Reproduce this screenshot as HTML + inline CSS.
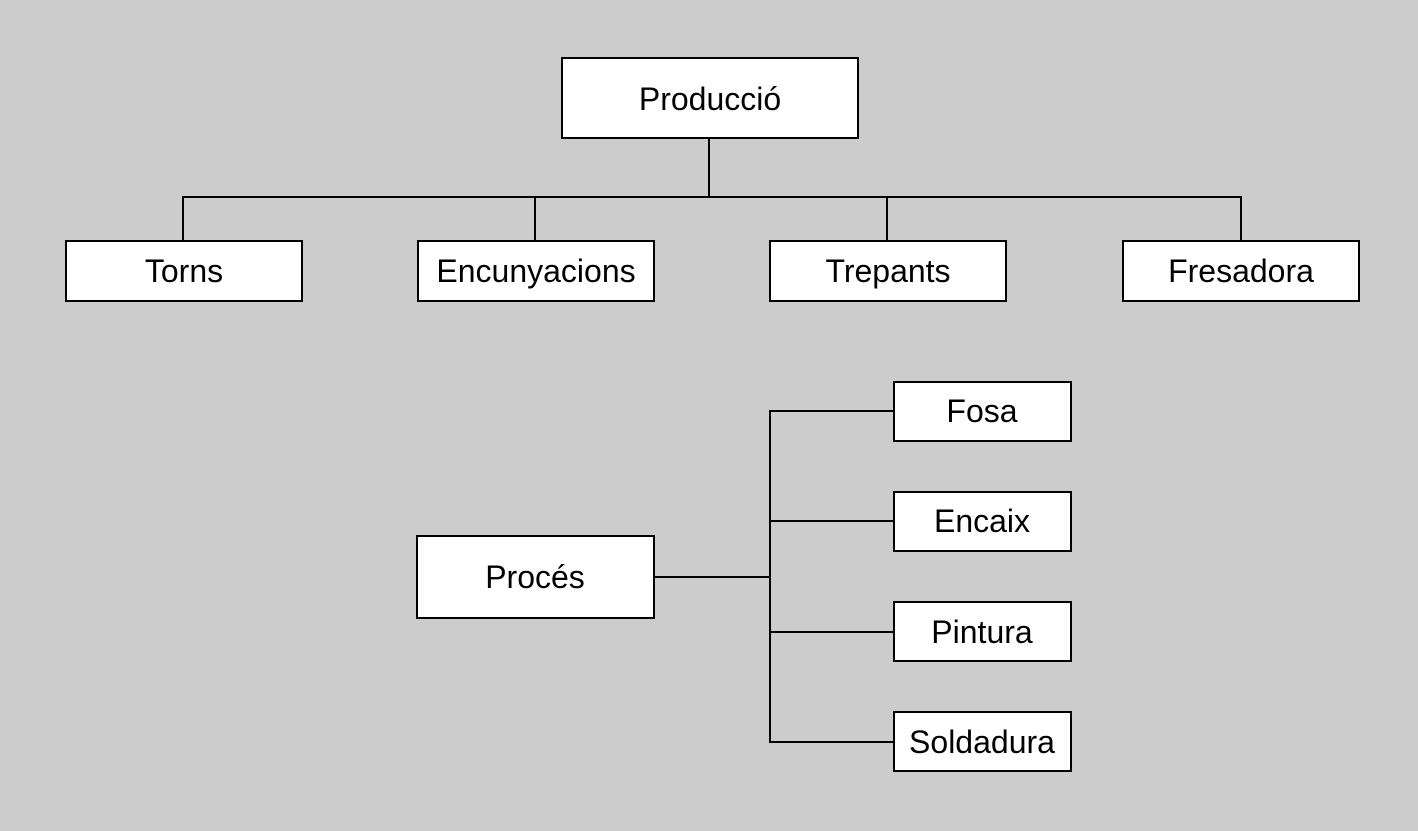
<!DOCTYPE html>
<html><head><meta charset="utf-8"><style>
html,body{margin:0;padding:0;background:#cccccc;}
svg{display:block;}
text{font-family:"Liberation Sans",sans-serif;font-size:32px;fill:#000;text-anchor:middle;dominant-baseline:central;}
rect{fill:#fff;stroke:#000;stroke-width:2;}
line{stroke:#000;stroke-width:2;}
</style></head><body>
<svg width="1418" height="831" viewBox="0 0 1418 831">
<rect x="0" y="0" width="1418" height="831" style="fill:#cccccc;stroke:none"/>
<line x1="709" y1="138" x2="709" y2="197"/>
<line x1="182" y1="197" x2="1242" y2="197"/>
<line x1="183" y1="197" x2="183" y2="241"/>
<line x1="535" y1="197" x2="535" y2="241"/>
<line x1="887" y1="197" x2="887" y2="241"/>
<line x1="1241" y1="197" x2="1241" y2="241"/>
<line x1="654" y1="577" x2="770" y2="577"/>
<line x1="770" y1="410" x2="770" y2="743"/>
<line x1="770" y1="411" x2="894" y2="411"/>
<line x1="770" y1="521" x2="894" y2="521"/>
<line x1="770" y1="632" x2="894" y2="632"/>
<line x1="770" y1="742" x2="894" y2="742"/>
<rect x="562" y="58" width="296" height="80"/><text x="710" y="99">Producció</text>
<rect x="66" y="241" width="236" height="60"/><text x="184" y="271">Torns</text>
<rect x="418" y="241" width="236" height="60"/><text x="536" y="271">Encunyacions</text>
<rect x="770" y="241" width="236" height="60"/><text x="888" y="271">Trepants</text>
<rect x="1123" y="241" width="236" height="60"/><text x="1241" y="271">Fresadora</text>
<rect x="417" y="536" width="237" height="82"/><text x="535" y="577">Procés</text>
<rect x="894" y="382" width="177" height="59"/><text x="982" y="411">Fosa</text>
<rect x="894" y="492" width="177" height="59"/><text x="982" y="521">Encaix</text>
<rect x="894" y="602" width="177" height="59"/><text x="982" y="632">Pintura</text>
<rect x="894" y="712" width="177" height="59"/><text x="982" y="742">Soldadura</text>
</svg>
</body></html>
